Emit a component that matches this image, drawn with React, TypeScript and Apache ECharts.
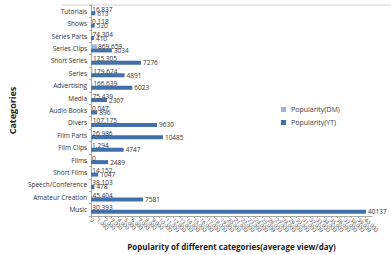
import React, { useEffect, useRef } from "react";
import * as echarts from "echarts";

// Categories listed bottom → top (ECharts draws the first category at the bottom)
const categories = [
  "Music",
  "Amateur Creation",
  "Speech/Conference",
  "Short Films",
  "Films",
  "Film Clips",
  "Film Parts",
  "Divers",
  "Audio Books",
  "Media",
  "Advertising",
  "Series",
  "Short Series",
  "Series Clips",
  "Series Parts",
  "Shows",
  "Tutorials",
];

const popularityDM = [
  30.393, 45.404, 38.103, 14.152, 0, 1.294, 26.986, 107.175, 0.047, 75.439,
  166.639, 179.674, 125.305, 869.659, 74.304, 0.118, 16.837,
];

const popularityYT = [
  40137, 7581, 478, 1047, 2489, 4747, 10485, 9630, 896, 2307, 6023, 4891,
  7276, 3034, 410, 520, 613,
];

const xMin = 0;
const xMax = 41000;
const xStep = 1000;

const font = "'Open Sans', 'Noto Sans', sans-serif";

export default function App() {
  const ref = useRef<HTMLDivElement>(null);

  useEffect(() => {
    if (!ref.current) return;
    const chart = echarts.init(ref.current, undefined, { renderer: "svg" });
    chart.setOption({
      animation: false,
      backgroundColor: "#ffffff",
      textStyle: { fontFamily: font },
      graphic: [
        {
          type: "line",
          shape: { x1: 62, y1: 5, x2: 391, y2: 5 },
          style: { stroke: "#d4d4d4", lineWidth: 1 },
        },
      ],
      legend: {
        orient: "vertical",
        left: 276,
        top: 101,
        itemWidth: 5,
        itemHeight: 5,
        itemGap: 6,
        icon: "rect",
        textStyle: { fontSize: 7, color: "#404040", fontFamily: font },
        data: ["Popularity(DM)", "Popularity(YT)"],
      },
      grid: { left: 68, right: 19, top: 5, bottom: 34, containLabel: false },
      xAxis: {
        type: "value",
        min: xMin,
        max: xMax,
        interval: xStep,
        name: "Popularity of different categories(average view/day)",
        nameLocation: "middle",
        nameGap: 26,
        nameTextStyle: {
          fontSize: 8,
          fontWeight: "bold",
          color: "#222",
          fontFamily: font,
        },
        splitLine: { show: false },
        axisLine: { show: true, lineStyle: { color: "#a6a6a6" } },
        axisTick: { show: true, length: 2, lineStyle: { color: "#a6a6a6" } },
        axisLabel: {
          rotate: -45,
          fontSize: 5.5,
          margin: 3,
          color: "#444",
          interval: 0,
          fontFamily: font,
        },
      },
      yAxis: {
        type: "category",
        data: categories,
        name: "Categories",
        nameLocation: "middle",
        nameGap: 54,
        nameRotate: 90,
        nameTextStyle: {
          fontSize: 9,
          fontWeight: "bold",
          color: "#222",
          fontFamily: font,
        },
        axisLine: { show: true, lineStyle: { color: "#a6a6a6" } },
        axisTick: { show: true, length: 2, lineStyle: { color: "#a6a6a6" } },
        axisLabel: { fontSize: 6.5, color: "#333", margin: 4, fontFamily: font },
      },
      series: [
        {
          name: "Popularity(DM)",
          type: "bar",
          data: popularityDM,
          barWidth: 4,
          barGap: "0%",
          itemStyle: { color: "#98b6dc" },
          label: {
            show: true,
            position: "right",
            distance: 1,
            fontSize: 6.5,
            color: "#333",
            fontFamily: font,
          },
        },
        {
          name: "Popularity(YT)",
          type: "bar",
          data: popularityYT,
          barWidth: 4,
          barGap: "0%",
          itemStyle: { color: "#4270ab" },
          label: {
            show: true,
            position: "right",
            distance: 2,
            fontSize: 6.5,
            color: "#333",
            fontFamily: font,
          },
        },
      ],
    });
    return () => chart.dispose();
  }, []);

  return (
    <div
      ref={ref}
      style={{ position: "absolute", left: 0, top: 0, width: 391, height: 255 }}
    />
  );
}
